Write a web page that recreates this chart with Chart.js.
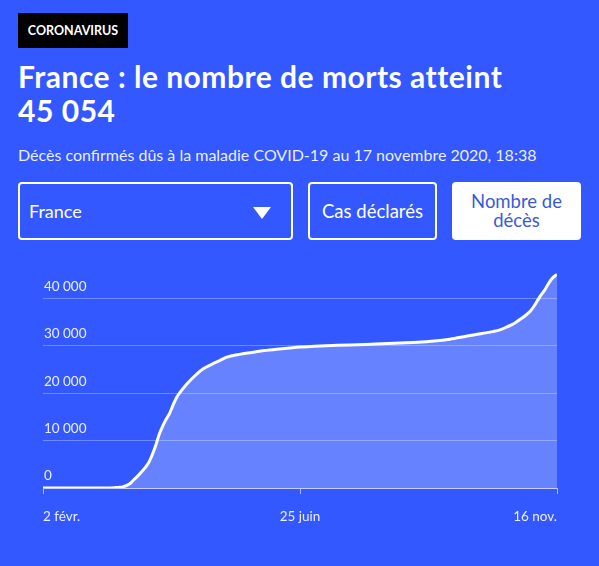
<!DOCTYPE html>
<html lang="fr">
<head>
<meta charset="utf-8">
<script src="https://cdn.jsdelivr.net/npm/chart.js@4.4.1/dist/chart.umd.min.js"></script>
<style>
  html, body { margin:0; padding:0; }
  body { width:599px; height:566px; background:#3358ff; font-family:Lato, "Noto Sans", sans-serif; color:#fff; position:relative; overflow:hidden; }
  .tag { position:absolute; left:18px; top:13px; width:110px; height:35px; background:#000; color:#fff;
         font-weight:700; font-size:12.5px; line-height:35px; text-align:center; }
  h1 { position:absolute; left:18px; top:59px; margin:0; font-size:30px; line-height:34px; font-weight:700; letter-spacing:0.5px; width:570px; }
  .sub { position:absolute; left:18px; top:145px; font-size:16px; font-weight:400; color:rgba(255,255,255,0.92); white-space:nowrap; }
  .box { position:absolute; top:182px; height:58px; box-sizing:border-box; border:2px solid #fff; border-radius:4px;
         font-size:18.5px; display:flex; align-items:center; }
  .sel { left:18px; width:275px; padding-left:9px; font-size:18px; }
  .sel .tri { position:absolute; right:20px; top:23px; width:0; height:0; border-left:9px solid transparent;
              border-right:9px solid transparent; border-top:12px solid #fff; }
  .cas { left:308px; width:129px; justify-content:center; }
  .deces { left:452px; width:129px; justify-content:center; text-align:center; background:#fff; color:#3a5ad8; line-height:19px; }
  .wrap { position:absolute; left:0; top:260px; width:599px; height:290px; }
</style>
</head>
<body>
<div class="tag">CORONAVIRUS</div>
<h1>France : le nombre de morts atteint<br>45&#8239;054</h1>
<div class="sub">Décès confirmés dûs à la maladie COVID-19 au 17 novembre 2020, 18:38</div>
<div class="box sel">France<span class="tri"></span></div>
<div class="box cas">Cas déclarés</div>
<div class="box deces">Nombre de<br>décès</div>
<div class="wrap"><canvas id="c"></canvas></div>
<script>
// days since 2 Feb 2020 and cumulative confirmed deaths (France)
const days = [0, 14, 28, 35, 40, 43, 45, 47, 49, 51, 53, 55, 57, 59, 61, 63, 65, 67, 69, 71, 73, 75, 77, 80, 83, 86, 90, 94, 98,
  103, 110, 117, 124, 131, 138, 144, 152, 162, 172, 181, 190, 200, 210, 219, 228, 237, 246, 252, 256, 260, 264, 267, 270,
  273, 275, 277, 279, 281, 283, 285, 287, 288];
const deaths = [0, 1, 2, 19, 79, 148, 300, 560, 1000, 1800, 2500, 3300, 4200, 5200, 6800, 8800, 11200, 13000, 14500, 15800,
  17600, 19200, 20300, 21700, 22900, 24000, 25200, 26000, 26700, 27600, 28200, 28600, 29000, 29300, 29550, 29750, 29900,
  30050, 30200, 30300, 30450, 30600, 30750, 31000, 31400, 32000, 32600, 33000, 33350, 34000, 34700, 35500, 36300, 37300,
  38300, 39500, 40700, 41700, 43000, 44100, 44800, 45054];
const tickDays = [0, 144, 288];
const tickLabels = ["2 févr.", "25 juin", "16 nov."];
const yTicks = [0, 10000, 20000, 30000, 40000];

const fmt = v => v === 0 ? "0" : String(v).replace(/\B(?=(\d{3})+(?!\d))/g, "\u202F");
const tickFont = { family: "Lato, 'Noto Sans', sans-serif", size: 13.5 };

new Chart(document.getElementById("c"), {
  type: "line",
  data: {
    datasets: [{
      data: days.map((d, i) => ({ x: d, y: deaths[i] })),
      borderColor: "#fff",
      borderWidth: 3,
      backgroundColor: "rgba(255,255,255,0.25)",
      fill: "origin",
      pointRadius: 0,
      tension: 0.3,
      cubicInterpolationMode: "monotone"
    }]
  },
  options: {
    responsive: true,
    maintainAspectRatio: false,
    animation: false,
    layout: { padding: { left: 43, right: 42, top: 10, bottom: 0 } },
    plugins: { legend: { display: false }, tooltip: { enabled: false } },
    scales: {
      x: {
        type: "linear", min: 0, max: 288,
        afterBuildTicks: s => { s.ticks = tickDays.map(v => ({ value: v })); },
        afterFit: s => { s.height = 62; },
        ticks: {
          color: "rgba(255,255,255,0.9)", font: tickFont, padding: 15, maxRotation: 0, align: "inner",
          callback: v => tickLabels[tickDays.indexOf(v)]
        },
        grid: { drawOnChartArea: false, drawTicks: true, tickLength: 6, color: "rgba(255,255,255,0.6)" },
        border: { display: true, color: "rgba(255,255,255,0.6)", width: 1 }
      },
      y: {
        min: 0, max: 46000,
        afterBuildTicks: s => { s.ticks = yTicks.map(v => ({ value: v })); },
        afterFit: s => { s.width = 0; },
        ticks: {
          mirror: true, padding: 1, labelOffset: -12, color: "rgba(255,255,255,0.9)", font: tickFont,
          callback: v => fmt(v)
        },
        grid: { drawTicks: false, color: "rgba(255,255,255,0.3)", lineWidth: 1 },
        border: { display: false }
      }
    }
  }
});
</script>
</body>
</html>
